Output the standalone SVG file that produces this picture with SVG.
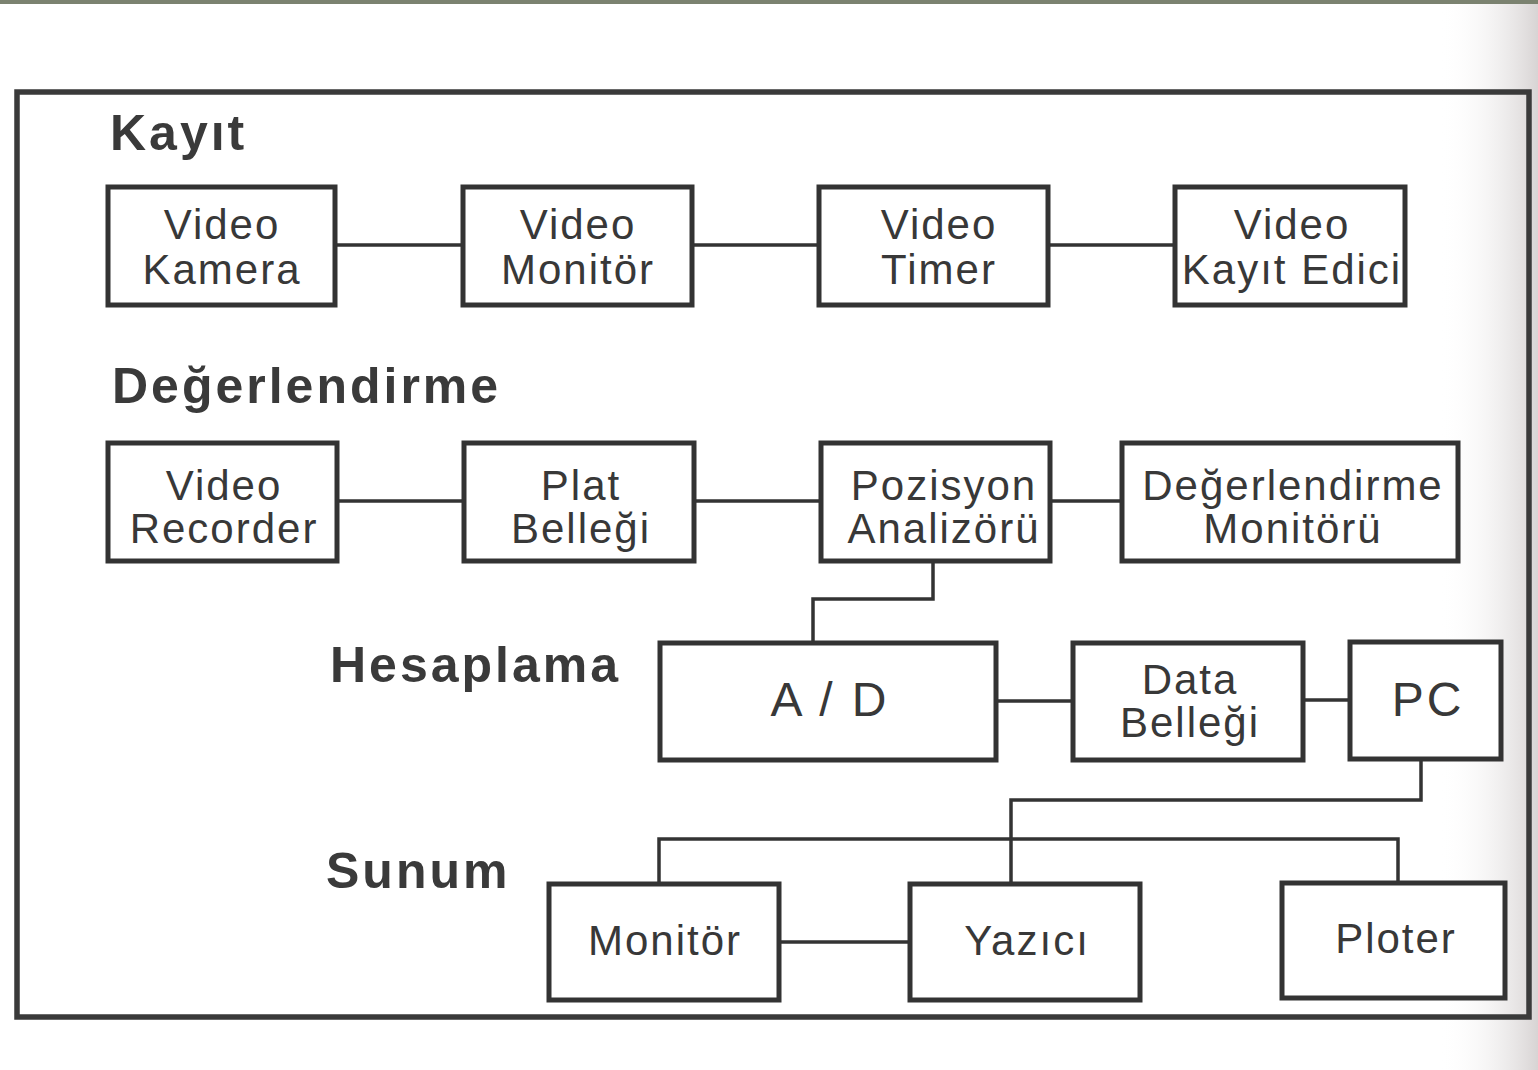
<svg xmlns="http://www.w3.org/2000/svg" width="1538" height="1070" viewBox="0 0 1538 1070">
<defs>
<style>
.frame{fill:none;stroke:#3a3a3a;stroke-width:5.5}
.box{fill:#ffffff;stroke:#333333;stroke-width:5}
.conn{fill:none;stroke:#333333;stroke-width:3.5}
.t{font-family:"Liberation Sans",Arial,sans-serif;font-size:42px;letter-spacing:2px;fill:#383838;text-anchor:middle}
.big{font-size:48px;letter-spacing:3px}
.h{font-family:"Liberation Sans",Arial,sans-serif;font-size:50px;font-weight:bold;letter-spacing:3px;fill:#3a3a3a}
</style>
<linearGradient id="shade" x1="0" y1="0" x2="1" y2="0">
<stop offset="0" stop-color="#ffffff" stop-opacity="0"/>
<stop offset="1" stop-color="#d8d4d4" stop-opacity="1"/>
</linearGradient>
</defs>
<rect x="0" y="0" width="1538" height="1070" fill="#ffffff"/>
<rect x="1440" y="0" width="98" height="1070" fill="url(#shade)"/>
<rect x="0" y="0" width="1538" height="4" fill="#7b8270"/>
<rect class="frame" x="17" y="92" width="1512" height="925"/>

<text class="h" x="110" y="150">Kayıt</text>
<text class="h" x="112" y="403">Değerlendirme</text>
<text class="h" x="330" y="682">Hesaplama</text>
<text class="h" x="326" y="888">Sunum</text>

<g id="connectors">
<path class="conn" d="M335 245H463M692 245H819M1048 245H1175"/>
<path class="conn" d="M337 501H464M694 501H821M1050 501H1122"/>
<path class="conn" d="M933 561V599H813V643"/>
<path class="conn" d="M996 701H1073M1303 700H1350"/>
<path class="conn" d="M1421 758V800H1011V884"/>
<path class="conn" d="M659 884V839H1398V883"/>
<path class="conn" d="M779 942H910"/>
</g>

<g id="video-kamera"><rect class="box" x="108" y="187" width="227" height="118"/><text class="t" x="222" y="239">Video</text><text class="t" x="222" y="284">Kamera</text></g>
<g id="video-monitor"><rect class="box" x="463" y="187" width="229" height="118"/><text class="t" x="578" y="239">Video</text><text class="t" x="578" y="284">Monitör</text></g>
<g id="video-timer"><rect class="box" x="819" y="187" width="229" height="118"/><text class="t" x="939" y="239">Video</text><text class="t" x="939" y="284">Timer</text></g>
<g id="video-kayit-edici"><rect class="box" x="1175" y="187" width="230" height="118"/><text class="t" x="1292" y="239">Video</text><text class="t" x="1292" y="284">Kayıt Edici</text></g>

<g id="video-recorder"><rect class="box" x="108" y="443" width="229" height="118"/><text class="t" x="224" y="500">Video</text><text class="t" x="224" y="543">Recorder</text></g>
<g id="plat-bellegi"><rect class="box" x="464" y="443" width="230" height="118"/><text class="t" x="581" y="500">Plat</text><text class="t" x="581" y="543">Belleği</text></g>
<g id="pozisyon-analizoru"><rect class="box" x="821" y="443" width="229" height="118"/><text class="t" x="944" y="500">Pozisyon</text><text class="t" x="944" y="543">Analizörü</text></g>
<g id="degerlendirme-monitoru"><rect class="box" x="1122" y="443" width="336" height="118"/><text class="t" x="1293" y="500">Değerlendirme</text><text class="t" x="1293" y="543">Monitörü</text></g>

<g id="a-d"><rect class="box" x="660" y="643" width="336" height="117"/><text class="t big" x="830" y="716">A / D</text></g>
<g id="data-bellegi"><rect class="box" x="1073" y="643" width="230" height="117"/><text class="t" x="1190" y="694">Data</text><text class="t" x="1190" y="737">Belleği</text></g>
<g id="pc"><rect class="box" x="1350" y="642" width="151" height="117"/><text class="t big" x="1428" y="716">PC</text></g>

<g id="monitor"><rect class="box" x="549" y="884" width="230" height="116"/><text class="t" x="665" y="955">Monitör</text></g>
<g id="yazici"><rect class="box" x="910" y="884" width="230" height="116"/><text class="t" x="1027" y="955">Yazıcı</text></g>
<g id="ploter"><rect class="box" x="1282" y="883" width="223" height="115"/><text class="t" x="1396" y="953">Ploter</text></g>
</svg>
